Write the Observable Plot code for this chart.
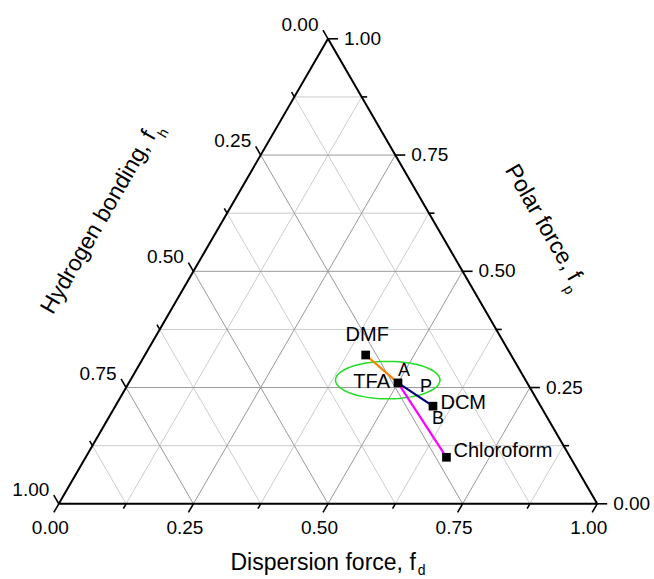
<!DOCTYPE html>
<html><head><meta charset="utf-8">
<script src="https://cdn.jsdelivr.net/npm/d3@7"></script>
<script src="https://cdn.jsdelivr.net/npm/@observablehq/plot@0.6"></script>
<style>body{margin:0;background:#fff}</style>
</head><body><div id="chart"></div>
<script>
// ---- Data (Teas fractional parameters) ----
const solvents = ["DMF", "TFA", "DCM", "Chloroform"];
const fdValues = [0.41, 0.50, 0.59, 0.67];
const fpValues = [0.32, 0.26, 0.21, 0.10];
const fhValues = [0.27, 0.24, 0.20, 0.23];
const connections = [
  {from: "DMF", to: "TFA", color: "#ff8000"},
  {from: "TFA", to: "DCM", color: "#000080"},
  {from: "TFA", to: "Chloroform", color: "#ff00ff"}
];
const gridValues = [0.125, 0.25, 0.375, 0.5, 0.625, 0.75, 0.875];
const tickValues = [0, 0.125, 0.25, 0.375, 0.5, 0.625, 0.75, 0.875, 1];
const labelValues = [0, 0.25, 0.5, 0.75, 1];
const tickLabels = ["0.00", "0.25", "0.50", "0.75", "1.00"];
const axisTitles = [
  {main: "Dispersion force, f", sub: "d", shift: 5},
  {main: "Hydrogen bonding, f", sub: "h", shift: 9},
  {main: "Polar force, f", sub: "p", shift: 9}
];
// region ellipse (centre in fd/fp, semi-axes in plot units)
const ellipseCenter = {fd: 0.478, fp: 0.266};
const ellipseRadii = {rx: 0.097, ry: 0.0402};
const annotations = [
  {text: "DMF", at: "DMF", dx: 1.5, dy: -20, anchor: "middle", size: 20},
  {text: "TFA", at: "TFA", dx: -8, dy: -1.5, anchor: "end", size: 20},
  {text: "A", at: "TFA", dx: 6, dy: -12.5, anchor: "middle", size: 18},
  {text: "P", at: "TFA", dx: 28, dy: 3.5, anchor: "middle", size: 18},
  {text: "DCM", at: "DCM", dx: 7.5, dy: -3.4, anchor: "start", size: 20},
  {text: "B", at: "DCM", dx: 5, dy: 11.6, anchor: "middle", size: 18},
  {text: "Chloroform", at: "Chloroform", dx: 7, dy: -6.7, anchor: "start", size: 20}
];

// ---- ternary -> cartesian ----
const T = (a, b, c) => { const s = a + b + c; return [(a + b / 2) / s, b / s]; };
const points = solvents.map((n, i) => ({name: n, p: T(fdValues[i], fpValues[i], fhValues[i])}));
const byName = Object.fromEntries(points.map(d => [d.name, d]));

const grid = [];
for (const v of gridValues) {
  const major = Math.abs(v * 4 - Math.round(v * 4)) < 1e-9;
  grid.push({major, p1: T(0, v, 1 - v), p2: T(1 - v, v, 0)});
  grid.push({major, p1: T(v, 0, 1 - v), p2: T(v, 1 - v, 0)});
  grid.push({major, p1: T(0, 1 - v, v), p2: T(1 - v, 0, v)});
}
const ticks = [];
for (const v of tickValues) {
  const major = Math.abs(v * 4 - Math.round(v * 4)) < 1e-9;
  const t = major ? 0.0186 : 0.0102;
  ticks.push({p1: T(v, 0, 1 - v), p2: T(v, -t, 1 - v + t)});
  ticks.push({p1: T(1 - v, v, 0), p2: T(1 - v + t, v, -t)});
  ticks.push({p1: T(0, 1 - v, v), p2: T(-t, 1 - v + t, v)});
}
const bottomLabels = labelValues.map((v, i) => ({text: tickLabels[i], p: T(v, 0, 1 - v)}));
const rightLabels = labelValues.map((v, i) => ({text: tickLabels[i], p: T(1 - v, v, 0)}));
const leftLabels = labelValues.map((v, i) => ({text: tickLabels[i], p: T(0, 1 - v, v)}));
const border = [T(0, 0, 1), T(1, 0, 0), T(0, 1, 0)];
const ec = T(ellipseCenter.fd, ellipseCenter.fp, 1 - ellipseCenter.fd - ellipseCenter.fp);
const ellipsePts = d3.range(0, 96).map(k => {
  const a = 2 * Math.PI * k / 96;
  return [ec[0] + ellipseRadii.rx * Math.cos(a), ec[1] + ellipseRadii.ry * Math.sin(a)];
});

const lk = (data, opts) => Plot.link(data, {x1: d => d.p1[0], y1: d => d.p1[1], x2: d => d.p2[0], y2: d => d.p2[1], ...opts});

const chart = Plot.plot({
  width: 654, height: 579,
  marginLeft: 58.3, marginRight: 57.3, marginTop: 38.3, marginBottom: 75.7,
  x: {domain: [0, 1], axis: null},
  y: {domain: [0, 1], axis: null},
  style: {fontFamily: "'Liberation Sans', Arial, sans-serif", fontSize: "19px", background: "#fff", color: "#000", overflow: "visible"},
  marks: [
    lk(grid.filter(d => !d.major), {stroke: "#cccccc", strokeWidth: 1}),
    lk(grid.filter(d => d.major), {stroke: "#999999", strokeWidth: 1}),
    lk(ticks, {stroke: "#000", strokeWidth: 1.6}),
    Plot.line(border, {x: d => d[0], y: d => d[1], curve: "linear-closed", stroke: "#000", strokeWidth: 2}),
    Plot.text(bottomLabels, {x: d => d.p[0], y: d => d.p[1], text: "text", dx: -8.5, dy: 24, textAnchor: "middle", fontSize: 19}),
    Plot.text(rightLabels, {x: d => d.p[0], y: d => d.p[1], text: "text", dx: 16, dy: 0, textAnchor: "start", fontSize: 19}),
    Plot.text(leftLabels, {x: d => d.p[0], y: d => d.p[1], text: "text", dx: -9.5, dy: -14, textAnchor: "end", fontSize: 19}),
    Plot.line(ellipsePts, {x: d => d[0], y: d => d[1], curve: "linear-closed", stroke: "#22dd22", strokeWidth: 1.5}),
    ...connections.map(c => lk([{p1: byName[c.from].p, p2: byName[c.to].p}], {stroke: c.color, strokeWidth: 2.2})),
    Plot.dot(points, {x: d => d.p[0], y: d => d.p[1], symbol: "square", r: 4.9, fill: "#000"}),
    ...annotations.map(a => Plot.text([a], {x: d => byName[d.at].p[0], y: d => byName[d.at].p[1], text: "text", dx: a.dx, dy: a.dy, textAnchor: a.anchor, fontSize: a.size})),
    Plot.text([{text: axisTitles[0].main, p: T(0.5, 0, 0.5)}], {x: d => d.p[0], y: d => d.p[1], text: "text", dy: 58.5, textAnchor: "middle", fontSize: 23}),
    Plot.text([{text: axisTitles[1].main, p: T(0, 0.5, 0.5)}], {x: d => d.p[0], y: d => d.p[1], text: "text", dx: -92.7, dy: -53.5, rotate: -60, textAnchor: "middle", fontSize: 23}),
    Plot.text([{text: axisTitles[2].main, p: T(0.5, 0.5, 0)}], {x: d => d.p[0], y: d => d.p[1], text: "text", dx: 83.4, dy: -44.6, rotate: 60, textAnchor: "middle", fontSize: 23})
  ]
});

// subscripts on the axis titles
chart.querySelectorAll("text").forEach(t => {
  const title = axisTitles.find(a => a.main === t.textContent);
  if (!title) return;
  const ts = document.createElementNS("http://www.w3.org/2000/svg", "tspan");
  ts.setAttribute("dx", "2");
  ts.setAttribute("dy", String(title.shift));
  ts.setAttribute("font-size", "14");
  ts.textContent = title.sub;
  t.appendChild(ts);
});
document.getElementById("chart").appendChild(chart);
</script>
</body></html>
